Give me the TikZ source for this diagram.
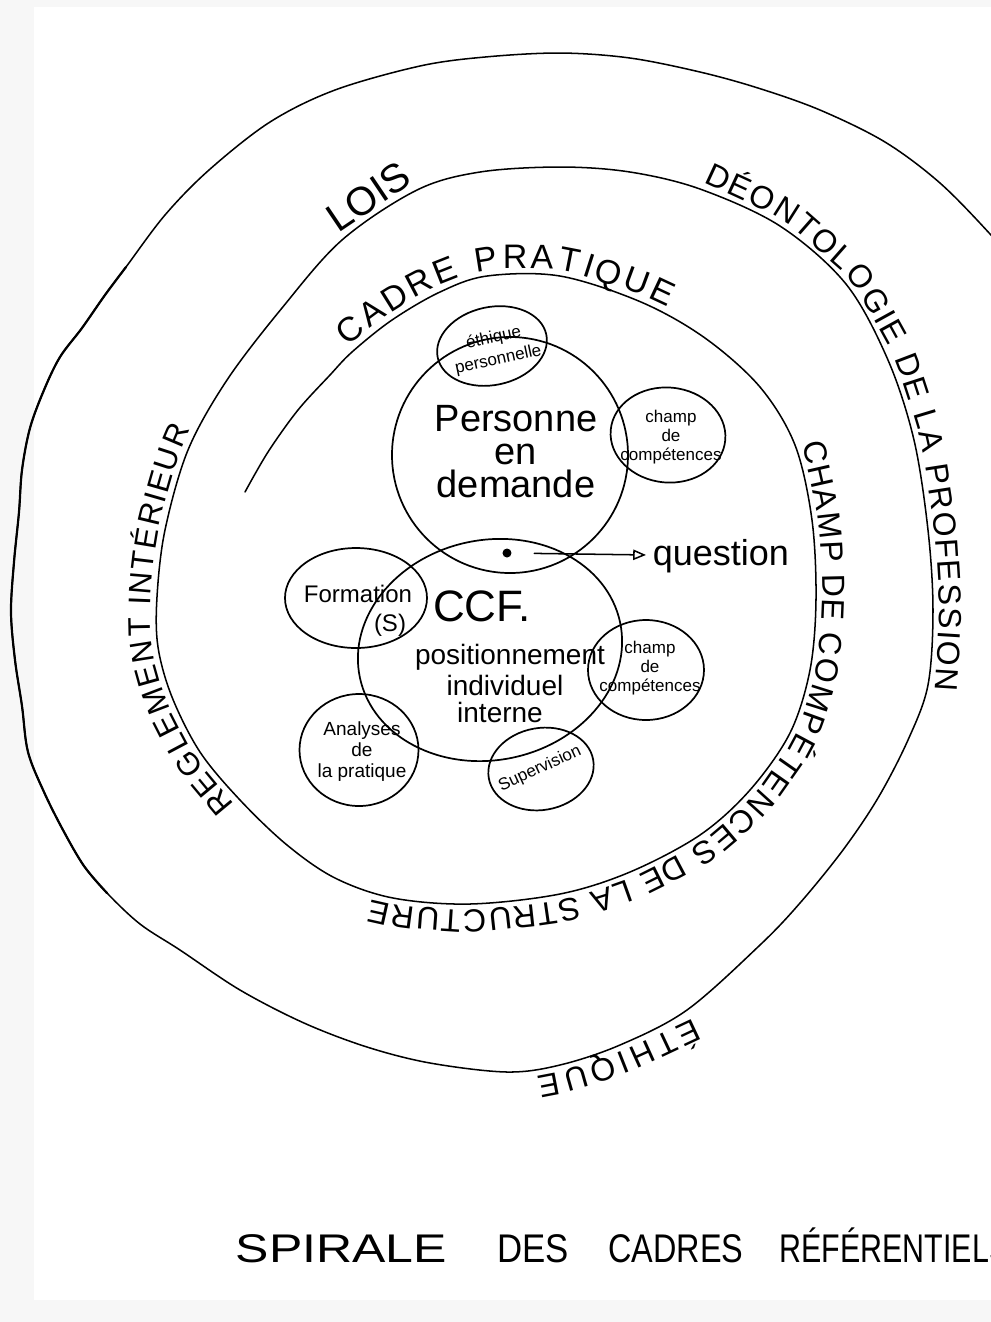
\documentclass[tikz,border=0pt]{standalone}
\usepackage{fontspec}
\usepackage{graphicx}
\setmainfont{Liberation Sans}
\usetikzlibrary{shapes.geometric,arrows.meta,decorations.text}
\newcommand{\myfs}[2]{\fontsize{#1}{#2}\selectfont}
\tikzset{
  ink/.style={draw=black, line width=0.38pt, line cap=round, line join=round},
  darkink/.style={draw=black, line width=0.55pt, line cap=round, line join=round},
  bubble/.style={ellipse, draw=black, line width=0.43pt, inner sep=0pt},
  spiraltext/.style={rounded corners=5pt, decorate, decoration={text along path, text={#1}, text align=fit to path, raise=1.8pt}},
}
\begin{document}
\begin{tikzpicture}[x=0.25pt,y=-0.25pt]
\useasboundingbox (0,0) rectangle (991,1322);
\fill[gray!6] (0,0) rectangle (991,1322);
\fill[white] (34,7) rectangle (991,1300);

% the spiral
\draw[ink] plot[smooth, tension=0.55] coordinates {
(245,492)(268,452)(298,410)(330,375)(352,352)(392,320)(440,292)(487,276)(560,276)(641,302)(705,338)(760,387)(795,445)(812,520)(816,600)(810,670)(790,733)(750,790)(700,835)(630,872)(560,894)(470,904)(393,898)(335,878)(287,845)(240,800)(200,752)(172,697)(158,647)(157,597)(165,530)(188,450)(227,380)(282,308)(342,240)(417,190)(480,172)(560,167)(630,172)(700,189)(780,226)(846,284)(888,360)(914,440)(928,530)(933,610)(928,685)(908,740)(878,798)(843,850)(800,903)(760,945)(687,1010)(620,1045)(560,1065)(507,1072)(430,1063)(367,1047)(304,1023)(240,990)(180,950)(140,924)(107,893)(84,866)(63,830)(44,792)(28,752)(22,706)(15,660)(11,612)(14,562)(19,512)(22,470)(30,428)(44,390)(60,357)(82,328)(105,295)(126,267)(165,215)(209,170)(270,122)(335,90)(420,66)(485,57)(560,53)(630,58)(700,72)(758,88)(820,110)(885,142)(940,183)(991,235)(1025,275)};
% darker retraced left part of the outer turn
\draw[darkink] plot[smooth, tension=0.55] coordinates {
(107,893)(84,866)(63,830)(44,792)(28,752)(22,706)(15,660)(11,612)(14,562)(19,512)(22,470)(30,428)(44,390)(60,357)(82,328)(105,295)(126,267)};

% texts along the spiral
\path[spiraltext={|\myfs{8.5}{8.5}|CADRE PRATIQUE}] (352,352) -- (392,320) -- (440,292) -- (487,276) -- (560,276) -- (641,302) -- (665,314);
\node[rotate=34, anchor=south, inner sep=1.5pt, font=\myfs{10}{10}] (lois) at (380,214) {LOIS};
\path[spiraltext={|\myfs{8}{8}|DÉONTOLOGIE DE LA PROFESSION}] (700,189) -- (780,226) -- (846,284) -- (888,360) -- (914,440) -- (928,530) -- (933,610) -- (928,690);
\path[spiraltext={|\myfs{8}{8}|ÉTHIQUE}] (690,1012) -- (620,1045) -- (560,1065) -- (535,1069);
\path[spiraltext={|\myfs{8}{8}|CHAMP DE COMPÉTENCES DE LA STRUCTURE}] (795,445) -- (812,520) -- (816,600) -- (810,670) -- (790,733) -- (750,790) -- (700,835) -- (630,872) -- (560,894) -- (470,904) -- (393,898) -- (372,892);
\path[spiraltext={|\myfs{7.8}{7.8}|REGLEMENT INTÉRIEUR}] (240,800) -- (200,752) -- (172,697) -- (158,647) -- (157,597) -- (165,530) -- (188,450) -- (197,432);

% bubbles
\node[bubble, minimum width=27.75pt, minimum height=19.5pt, rotate=12] (ethb) at (492,346) {};
\node[font=\myfs{4.25}{5.6}, align=center, rotate=12, inner sep=0pt] (etht) at (496,349) {éthique\\personnelle};
\node[bubble, circle, minimum size=59pt] (pers) at (510,455) {};
\node[font=\myfs{9.5}{8.25}, align=center, inner sep=0pt] (perst) at (516,452) {Personne\\en\\demande};
\node[bubble, minimum width=28.75pt, minimum height=23.75pt, rotate=-5] (champa) at (668,435) {};
\node[font=\myfs{4.25}{4.75}, align=center, inner sep=0pt] (champat) at (671,437) {champ\\de\\compétences};
\node[bubble, minimum width=66.5pt, minimum height=55pt, rotate=12] (ccf) at (490,650) {};
\node[font=\myfs{11}{11}, inner sep=0pt] (ccft) at (482,606) {CCF.};
\node[font=\myfs{7}{7}, inner sep=0pt] (post) at (510,657) {positionnement};
\node[font=\myfs{7}{7}, inner sep=0pt] (indt) at (505,685) {individuel};
\node[font=\myfs{7}{7}, inner sep=0pt] (intt) at (500,712) {interne};
\node[bubble, minimum width=35.5pt, minimum height=25pt] (form) at (356,598) {};
\node[font=\myfs{6}{6}, inner sep=0pt] (formt) at (358,594) {Formation};
\node[font=\myfs{6}{6}, inner sep=0pt] (formst) at (390,625) {(S)};
\node[bubble, minimum width=29pt, minimum height=25pt] (champb) at (646,670) {};
\node[font=\myfs{4.25}{4.75}, align=center, inner sep=0pt] (champbt) at (650,668) {champ\\de\\compétences};
\node[bubble, minimum width=29.75pt, minimum height=28pt] (anal) at (359,750) {};
\node[font=\myfs{4.75}{5.25}, align=center, inner sep=0pt] (analt) at (362,752) {Analyses\\de\\la pratique};
\node[bubble, minimum width=26.5pt, minimum height=20.5pt, rotate=10] (sup) at (541,769) {};
\node[font=\myfs{4.25}{4.25}, rotate=25, inner sep=0pt] (supt) at (540,769) {Supervision};

% dot, arrow, question
\node[circle, fill=black, inner sep=0pt, minimum size=2.25pt] (dot) at (507,553) {};
\node[font=\myfs{9}{9}, anchor=west, inner sep=0.5pt] (quest) at (650,556) {question};
\draw[ink, -{Triangle[open, length=3.2pt, width=2.6pt]}, shorten <=5.5pt, shorten >=1pt] (dot) -- (quest);

% title
\node[anchor=base west, font=\myfs{10}{10}, inner sep=0pt] (title) at (235,1262) {\scalebox{1.25}[1]{SPIRALE}\hspace{12.5pt}\scalebox{0.87}[1]{DES}\hspace{10pt}\scalebox{0.81}[1]{CADRES}\hspace{9pt}\scalebox{0.76}[1]{RÉFÉRENTIELS}};
\end{tikzpicture}
\end{document}
